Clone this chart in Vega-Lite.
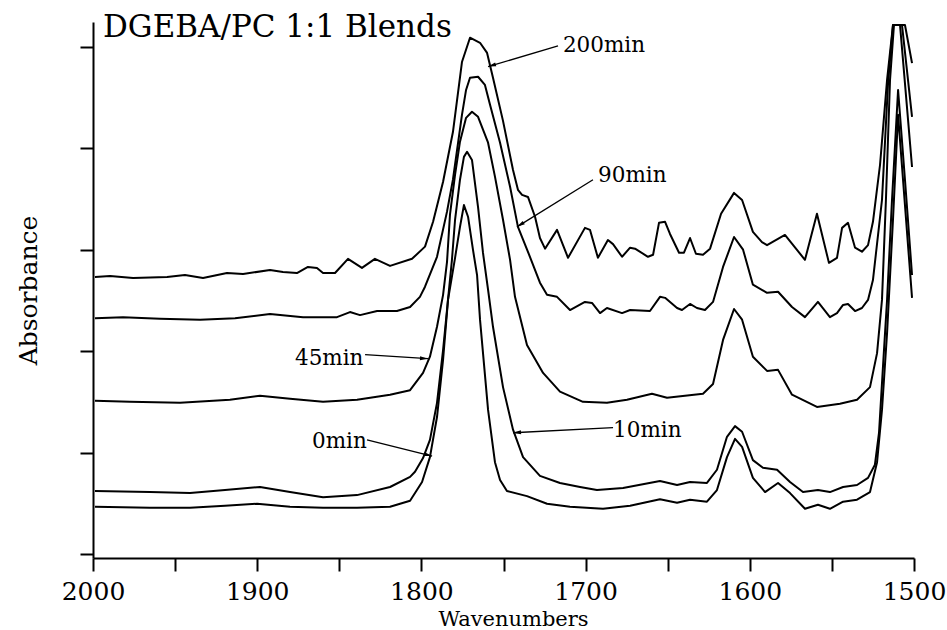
{
  "$schema": "https://vega.github.io/schema/vega-lite/v6.json",
  "width": 821,
  "height": 536,
  "autosize": {"type": "none"},
  "padding": {"left": 93, "top": 22, "right": 33, "bottom": 72},
  "background": "white",
  "config": {"view": {"stroke": null}, "font": "DejaVu Serif"},
  "datasets": {
    "spectra": [
      {"time":"200min","wn":1998.8,"abs":0.546},{"time":"200min","wn":1989.6,"abs":0.548},{"time":"200min","wn":1975.6,"abs":0.544},{"time":"200min","wn":1954.9,"abs":0.546},{"time":"200min","wn":1944.0,"abs":0.550},{"time":"200min","wn":1933.0,"abs":0.544},{"time":"200min","wn":1918.4,"abs":0.554},{"time":"200min","wn":1908.6,"abs":0.552},{"time":"200min","wn":1892.2,"abs":0.560},{"time":"200min","wn":1884.3,"abs":0.556},{"time":"200min","wn":1875.8,"abs":0.554},{"time":"200min","wn":1869.1,"abs":0.566},{"time":"200min","wn":1863.6,"abs":0.564},{"time":"200min","wn":1859.9,"abs":0.554},{"time":"200min","wn":1852.6,"abs":0.554},{"time":"200min","wn":1844.7,"abs":0.582},{"time":"200min","wn":1836.2,"abs":0.564},{"time":"200min","wn":1828.3,"abs":0.582},{"time":"200min","wn":1819.1,"abs":0.568},{"time":"200min","wn":1805.7,"abs":0.582},{"time":"200min","wn":1797.8,"abs":0.606},{"time":"200min","wn":1792.9,"abs":0.655},{"time":"200min","wn":1786.8,"abs":0.734},{"time":"200min","wn":1780.8,"abs":0.832},{"time":"200min","wn":1775.3,"abs":0.970},{"time":"200min","wn":1770.4,"abs":1.018},{"time":"200min","wn":1764.3,"abs":1.008},{"time":"200min","wn":1760.0,"abs":0.988},{"time":"200min","wn":1756.4,"abs":0.939},{"time":"200min","wn":1750.3,"abs":0.854},{"time":"200min","wn":1744.2,"abs":0.757},{"time":"200min","wn":1741.2,"abs":0.718},{"time":"200min","wn":1738.7,"abs":0.708},{"time":"200min","wn":1735.1,"abs":0.704},{"time":"200min","wn":1730.8,"abs":0.665},{"time":"200min","wn":1727.8,"abs":0.623},{"time":"200min","wn":1724.7,"abs":0.602},{"time":"200min","wn":1717.4,"abs":0.639},{"time":"200min","wn":1710.7,"abs":0.584},{"time":"200min","wn":1700.4,"abs":0.643},{"time":"200min","wn":1697.3,"abs":0.639},{"time":"200min","wn":1692.5,"abs":0.584},{"time":"200min","wn":1686.4,"abs":0.619},{"time":"200min","wn":1683.3,"abs":0.611},{"time":"200min","wn":1677.8,"abs":0.586},{"time":"200min","wn":1672.9,"abs":0.604},{"time":"200min","wn":1669.9,"abs":0.602},{"time":"200min","wn":1662.0,"abs":0.586},{"time":"200min","wn":1658.9,"abs":0.590},{"time":"200min","wn":1655.3,"abs":0.653},{"time":"200min","wn":1651.6,"abs":0.655},{"time":"200min","wn":1648.6,"abs":0.631},{"time":"200min","wn":1643.1,"abs":0.594},{"time":"200min","wn":1640.1,"abs":0.594},{"time":"200min","wn":1636.4,"abs":0.623},{"time":"200min","wn":1632.8,"abs":0.592},{"time":"200min","wn":1628.5,"abs":0.590},{"time":"200min","wn":1624.2,"abs":0.602},{"time":"200min","wn":1617.5,"abs":0.671},{"time":"200min","wn":1609.6,"abs":0.712},{"time":"200min","wn":1604.7,"abs":0.698},{"time":"200min","wn":1598.1,"abs":0.635},{"time":"200min","wn":1592.6,"abs":0.615},{"time":"200min","wn":1589.5,"abs":0.609},{"time":"200min","wn":1578.6,"abs":0.629},{"time":"200min","wn":1566.4,"abs":0.580},{"time":"200min","wn":1559.1,"abs":0.671},{"time":"200min","wn":1551.8,"abs":0.574},{"time":"200min","wn":1546.9,"abs":0.584},{"time":"200min","wn":1543.8,"abs":0.643},{"time":"200min","wn":1540.2,"abs":0.653},{"time":"200min","wn":1535.9,"abs":0.604},{"time":"200min","wn":1531.7,"abs":0.596},{"time":"200min","wn":1528.0,"abs":0.609},{"time":"200min","wn":1525.0,"abs":0.655},{"time":"200min","wn":1520.7,"abs":0.767},{"time":"200min","wn":1516.4,"abs":0.935},{"time":"200min","wn":1512.8,"abs":1.043},{"time":"200min","wn":1505.5,"abs":1.043},{"time":"200min","wn":1501.2,"abs":0.968},

      {"time":"90min","wn":1998.8,"abs":0.465},{"time":"90min","wn":1981.7,"abs":0.467},{"time":"90min","wn":1959.2,"abs":0.464},{"time":"90min","wn":1934.8,"abs":0.462},{"time":"90min","wn":1913.5,"abs":0.465},{"time":"90min","wn":1892.2,"abs":0.473},{"time":"90min","wn":1872.1,"abs":0.467},{"time":"90min","wn":1851.4,"abs":0.467},{"time":"90min","wn":1843.5,"abs":0.477},{"time":"90min","wn":1837.4,"abs":0.471},{"time":"90min","wn":1827.0,"abs":0.479},{"time":"90min","wn":1814.9,"abs":0.479},{"time":"90min","wn":1806.9,"abs":0.487},{"time":"90min","wn":1800.9,"abs":0.507},{"time":"90min","wn":1797.8,"abs":0.527},{"time":"90min","wn":1790.5,"abs":0.586},{"time":"90min","wn":1784.4,"abs":0.675},{"time":"90min","wn":1780.8,"abs":0.738},{"time":"90min","wn":1775.3,"abs":0.866},{"time":"90min","wn":1772.8,"abs":0.915},{"time":"90min","wn":1770.4,"abs":0.939},{"time":"90min","wn":1765.5,"abs":0.941},{"time":"90min","wn":1761.3,"abs":0.925},{"time":"90min","wn":1758.2,"abs":0.886},{"time":"90min","wn":1752.1,"abs":0.811},{"time":"90min","wn":1746.0,"abs":0.724},{"time":"90min","wn":1741.2,"abs":0.645},{"time":"90min","wn":1733.9,"abs":0.586},{"time":"90min","wn":1727.8,"abs":0.535},{"time":"90min","wn":1723.5,"abs":0.511},{"time":"90min","wn":1717.4,"abs":0.507},{"time":"90min","wn":1709.5,"abs":0.481},{"time":"90min","wn":1700.4,"abs":0.497},{"time":"90min","wn":1696.1,"abs":0.495},{"time":"90min","wn":1691.2,"abs":0.475},{"time":"90min","wn":1687.0,"abs":0.485},{"time":"90min","wn":1677.8,"abs":0.475},{"time":"90min","wn":1672.9,"abs":0.481},{"time":"90min","wn":1660.8,"abs":0.479},{"time":"90min","wn":1654.7,"abs":0.507},{"time":"90min","wn":1651.6,"abs":0.505},{"time":"90min","wn":1644.3,"abs":0.485},{"time":"90min","wn":1641.3,"abs":0.481},{"time":"90min","wn":1636.4,"abs":0.493},{"time":"90min","wn":1632.2,"abs":0.485},{"time":"90min","wn":1627.3,"abs":0.481},{"time":"90min","wn":1622.4,"abs":0.497},{"time":"90min","wn":1616.3,"abs":0.566},{"time":"90min","wn":1609.6,"abs":0.625},{"time":"90min","wn":1604.1,"abs":0.600},{"time":"90min","wn":1598.1,"abs":0.531},{"time":"90min","wn":1589.5,"abs":0.515},{"time":"90min","wn":1582.8,"abs":0.517},{"time":"90min","wn":1574.3,"abs":0.487},{"time":"90min","wn":1566.4,"abs":0.467},{"time":"90min","wn":1558.5,"abs":0.497},{"time":"90min","wn":1551.2,"abs":0.467},{"time":"90min","wn":1546.9,"abs":0.475},{"time":"90min","wn":1543.2,"abs":0.491},{"time":"90min","wn":1540.2,"abs":0.493},{"time":"90min","wn":1535.9,"abs":0.479},{"time":"90min","wn":1531.7,"abs":0.485},{"time":"90min","wn":1528.0,"abs":0.501},{"time":"90min","wn":1525.0,"abs":0.540},{"time":"90min","wn":1519.5,"abs":0.698},{"time":"90min","wn":1515.8,"abs":0.929},{"time":"90min","wn":1512.8,"abs":1.043},{"time":"90min","wn":1507.3,"abs":1.043},{"time":"90min","wn":1501.2,"abs":0.862},

      {"time":"45min","wn":1998.8,"abs":0.302},{"time":"45min","wn":1977.5,"abs":0.300},{"time":"45min","wn":1947.0,"abs":0.298},{"time":"45min","wn":1916.6,"abs":0.304},{"time":"45min","wn":1898.3,"abs":0.312},{"time":"45min","wn":1880.0,"abs":0.306},{"time":"45min","wn":1859.9,"abs":0.300},{"time":"45min","wn":1839.2,"abs":0.304},{"time":"45min","wn":1819.1,"abs":0.314},{"time":"45min","wn":1806.9,"abs":0.323},{"time":"45min","wn":1799.0,"abs":0.357},{"time":"45min","wn":1794.8,"abs":0.389},{"time":"45min","wn":1790.5,"abs":0.448},{"time":"45min","wn":1786.8,"abs":0.511},{"time":"45min","wn":1784.4,"abs":0.576},{"time":"45min","wn":1782.6,"abs":0.669},{"time":"45min","wn":1779.5,"abs":0.748},{"time":"45min","wn":1776.5,"abs":0.813},{"time":"45min","wn":1772.8,"abs":0.860},{"time":"45min","wn":1769.2,"abs":0.872},{"time":"45min","wn":1765.5,"abs":0.862},{"time":"45min","wn":1759.4,"abs":0.811},{"time":"45min","wn":1755.2,"abs":0.744},{"time":"45min","wn":1750.3,"abs":0.659},{"time":"45min","wn":1746.0,"abs":0.580},{"time":"45min","wn":1743.0,"abs":0.507},{"time":"45min","wn":1735.7,"abs":0.412},{"time":"45min","wn":1725.9,"abs":0.357},{"time":"45min","wn":1715.6,"abs":0.320},{"time":"45min","wn":1701.6,"abs":0.300},{"time":"45min","wn":1687.0,"abs":0.298},{"time":"45min","wn":1674.8,"abs":0.304},{"time":"45min","wn":1659.6,"abs":0.316},{"time":"45min","wn":1650.4,"abs":0.308},{"time":"45min","wn":1628.5,"abs":0.316},{"time":"45min","wn":1622.4,"abs":0.335},{"time":"45min","wn":1616.3,"abs":0.422},{"time":"45min","wn":1609.6,"abs":0.483},{"time":"45min","wn":1604.7,"abs":0.462},{"time":"45min","wn":1598.1,"abs":0.389},{"time":"45min","wn":1589.5,"abs":0.361},{"time":"45min","wn":1582.8,"abs":0.363},{"time":"45min","wn":1574.3,"abs":0.314},{"time":"45min","wn":1559.1,"abs":0.290},{"time":"45min","wn":1545.1,"abs":0.296},{"time":"45min","wn":1534.7,"abs":0.304},{"time":"45min","wn":1526.8,"abs":0.329},{"time":"45min","wn":1522.5,"abs":0.396},{"time":"45min","wn":1519.5,"abs":0.501},{"time":"45min","wn":1517.1,"abs":0.698},{"time":"45min","wn":1514.6,"abs":0.935},{"time":"45min","wn":1512.2,"abs":1.043},{"time":"45min","wn":1508.5,"abs":1.043},{"time":"45min","wn":1501.2,"abs":0.763},

      {"time":"10min","wn":1998.8,"abs":0.124},{"time":"10min","wn":1965.3,"abs":0.122},{"time":"10min","wn":1940.9,"abs":0.120},{"time":"10min","wn":1919.6,"abs":0.126},{"time":"10min","wn":1898.3,"abs":0.132},{"time":"10min","wn":1880.0,"abs":0.122},{"time":"10min","wn":1859.9,"abs":0.112},{"time":"10min","wn":1839.2,"abs":0.116},{"time":"10min","wn":1819.1,"abs":0.132},{"time":"10min","wn":1806.9,"abs":0.152},{"time":"10min","wn":1803.9,"abs":0.162},{"time":"10min","wn":1799.0,"abs":0.189},{"time":"10min","wn":1794.8,"abs":0.225},{"time":"10min","wn":1790.5,"abs":0.298},{"time":"10min","wn":1786.8,"abs":0.402},{"time":"10min","wn":1783.8,"abs":0.501},{"time":"10min","wn":1781.4,"abs":0.580},{"time":"10min","wn":1779.5,"abs":0.659},{"time":"10min","wn":1776.5,"abs":0.738},{"time":"10min","wn":1774.1,"abs":0.783},{"time":"10min","wn":1772.2,"abs":0.793},{"time":"10min","wn":1769.2,"abs":0.777},{"time":"10min","wn":1765.5,"abs":0.684},{"time":"10min","wn":1762.5,"abs":0.594},{"time":"10min","wn":1759.4,"abs":0.521},{"time":"10min","wn":1756.4,"abs":0.448},{"time":"10min","wn":1750.3,"abs":0.329},{"time":"10min","wn":1744.2,"abs":0.245},{"time":"10min","wn":1738.1,"abs":0.191},{"time":"10min","wn":1727.8,"abs":0.154},{"time":"10min","wn":1715.6,"abs":0.140},{"time":"10min","wn":1703.4,"abs":0.132},{"time":"10min","wn":1693.1,"abs":0.126},{"time":"10min","wn":1677.2,"abs":0.130},{"time":"10min","wn":1654.7,"abs":0.144},{"time":"10min","wn":1644.3,"abs":0.136},{"time":"10min","wn":1636.4,"abs":0.142},{"time":"10min","wn":1626.1,"abs":0.140},{"time":"10min","wn":1620.0,"abs":0.166},{"time":"10min","wn":1613.9,"abs":0.231},{"time":"10min","wn":1609.0,"abs":0.252},{"time":"10min","wn":1604.7,"abs":0.241},{"time":"10min","wn":1598.1,"abs":0.185},{"time":"10min","wn":1592.0,"abs":0.170},{"time":"10min","wn":1583.4,"abs":0.166},{"time":"10min","wn":1575.5,"abs":0.142},{"time":"10min","wn":1567.6,"abs":0.122},{"time":"10min","wn":1558.5,"abs":0.126},{"time":"10min","wn":1551.2,"abs":0.122},{"time":"10min","wn":1543.2,"abs":0.132},{"time":"10min","wn":1534.7,"abs":0.136},{"time":"10min","wn":1528.0,"abs":0.150},{"time":"10min","wn":1523.8,"abs":0.176},{"time":"10min","wn":1521.3,"abs":0.239},{"time":"10min","wn":1518.9,"abs":0.369},{"time":"10min","wn":1516.4,"abs":0.501},{"time":"10min","wn":1513.4,"abs":0.698},{"time":"10min","wn":1509.7,"abs":0.915},{"time":"10min","wn":1505.5,"abs":0.738},{"time":"10min","wn":1501.2,"abs":0.550},

      {"time":"0min","wn":1998.8,"abs":0.093},{"time":"0min","wn":1965.3,"abs":0.091},{"time":"0min","wn":1940.9,"abs":0.091},{"time":"0min","wn":1919.6,"abs":0.095},{"time":"0min","wn":1900.1,"abs":0.099},{"time":"0min","wn":1880.0,"abs":0.093},{"time":"0min","wn":1859.9,"abs":0.091},{"time":"0min","wn":1839.2,"abs":0.091},{"time":"0min","wn":1819.1,"abs":0.093},{"time":"0min","wn":1806.9,"abs":0.105},{"time":"0min","wn":1799.6,"abs":0.142},{"time":"0min","wn":1794.8,"abs":0.191},{"time":"0min","wn":1790.5,"abs":0.270},{"time":"0min","wn":1786.8,"abs":0.383},{"time":"0min","wn":1783.8,"abs":0.501},{"time":"0min","wn":1779.5,"abs":0.584},{"time":"0min","wn":1776.5,"abs":0.645},{"time":"0min","wn":1774.1,"abs":0.688},{"time":"0min","wn":1771.6,"abs":0.665},{"time":"0min","wn":1768.6,"abs":0.600},{"time":"0min","wn":1766.1,"abs":0.550},{"time":"0min","wn":1764.3,"abs":0.462},{"time":"0min","wn":1759.4,"abs":0.284},{"time":"0min","wn":1755.2,"abs":0.181},{"time":"0min","wn":1752.1,"abs":0.146},{"time":"0min","wn":1747.9,"abs":0.124},{"time":"0min","wn":1735.7,"abs":0.114},{"time":"0min","wn":1723.5,"abs":0.099},{"time":"0min","wn":1709.5,"abs":0.093},{"time":"0min","wn":1689.4,"abs":0.089},{"time":"0min","wn":1672.9,"abs":0.095},{"time":"0min","wn":1654.7,"abs":0.108},{"time":"0min","wn":1644.3,"abs":0.101},{"time":"0min","wn":1636.4,"abs":0.107},{"time":"0min","wn":1626.1,"abs":0.103},{"time":"0min","wn":1620.0,"abs":0.126},{"time":"0min","wn":1613.9,"abs":0.191},{"time":"0min","wn":1609.0,"abs":0.227},{"time":"0min","wn":1604.7,"abs":0.211},{"time":"0min","wn":1598.1,"abs":0.150},{"time":"0min","wn":1590.7,"abs":0.122},{"time":"0min","wn":1582.8,"abs":0.140},{"time":"0min","wn":1575.5,"abs":0.120},{"time":"0min","wn":1566.4,"abs":0.089},{"time":"0min","wn":1558.5,"abs":0.097},{"time":"0min","wn":1551.2,"abs":0.089},{"time":"0min","wn":1543.2,"abs":0.103},{"time":"0min","wn":1534.7,"abs":0.107},{"time":"0min","wn":1526.8,"abs":0.122},{"time":"0min","wn":1522.5,"abs":0.181},{"time":"0min","wn":1519.5,"abs":0.284},{"time":"0min","wn":1516.4,"abs":0.436},{"time":"0min","wn":1512.8,"abs":0.659},{"time":"0min","wn":1509.7,"abs":0.866},{"time":"0min","wn":1505.5,"abs":0.688},{"time":"0min","wn":1501.2,"abs":0.505}
    ],
    "labels": [
      {"label":"200min","wn":1713.8,"abs":0.990},
      {"label":"90min","wn":1692.4,"abs":0.734},
      {"label":"45min","wn":1877.0,"abs":0.373},
      {"label":"0min","wn":1866.6,"abs":0.209},
      {"label":"10min","wn":1683.3,"abs":0.231}
    ],
    "arrows": [
      {"label":"200min","wn":1759.4,"abs":0.961,"wn2":1716.8,"abs2":1.002},
      {"label":"90min","wn":1741.8,"abs":0.645,"wn2":1695.5,"abs2":0.738},
      {"label":"45min","wn":1796.0,"abs":0.385,"wn2":1834.3,"abs2":0.393},
      {"label":"0min","wn":1793.5,"abs":0.193,"wn2":1833.1,"abs2":0.225},
      {"label":"10min","wn":1744.2,"abs":0.239,"wn2":1683.3,"abs2":0.249}
    ],
    "heading": [
      {"text":"DGEBA/PC 1:1 Blends","wn":1993.9,"abs":1.020}
    ]
  },
  "encoding": {
    "x": {
      "field": "wn", "type": "quantitative",
      "scale": {"domain": [1500, 2000], "reverse": true, "nice": false, "zero": false},
      "axis": {
        "title": "Wavenumbers", "titleFont": "DejaVu Serif", "titleFontSize": 21, "titleFontWeight": "normal", "titleColor": "black",
        "titlePadding": 4, "titleX": 420,
        "values": [2000, 1950, 1900, 1850, 1800, 1750, 1700, 1650, 1600, 1550, 1500],
        "format": "d",
        "labelExpr": "datum.value % 100 === 0 ? datum.label : ''",
        "labelFont": "DejaVu Serif", "labelFontSize": 25, "labelColor": "black", "labelPadding": 8,
        "labelFlush": false, "labelOverlap": false,
        "tickSize": 13, "tickColor": "black", "tickWidth": 2,
        "domainColor": "black", "domainWidth": 2, "grid": false
      }
    },
    "y": {
      "field": "abs", "type": "quantitative",
      "scale": {"domain": [-0.008, 1.049], "nice": false, "zero": false},
      "axis": {
        "title": "Absorbance", "titleFont": "DejaVu Serif", "titleFontSize": 25, "titleFontWeight": "normal", "titleColor": "black",
        "titlePadding": 38,
        "values": [0, 0.2, 0.4, 0.6, 0.8, 1.0],
        "labels": false,
        "tickSize": 13, "tickColor": "black", "tickWidth": 2,
        "domainColor": "black", "domainWidth": 2, "grid": false
      }
    }
  },
  "layer": [
    {
      "data": {"name": "spectra"},
      "mark": {"type": "line", "color": "black", "strokeWidth": 2, "strokeJoin": "round"},
      "encoding": {"detail": {"field": "time"}}
    },
    {
      "data": {"name": "arrows"},
      "mark": {"type": "rule", "color": "black", "strokeWidth": 1.3},
      "encoding": {"x2": {"field": "wn2"}, "y2": {"field": "abs2"}}
    },
    {
      "data": {"name": "arrows"},
      "transform": [{"filter": {"field": "label", "equal": "200min"}}],
      "mark": {"type": "point", "shape": "M0,0L0.5,2L-0.5,2Z", "angle": 253.3, "filled": true, "color": "black", "opacity": 1, "strokeWidth": 0, "size": 64},
      "encoding": {}
    },
    {
      "data": {"name": "arrows"},
      "transform": [{"filter": {"field": "label", "equal": "90min"}}],
      "mark": {"type": "point", "shape": "M0,0L0.5,2L-0.5,2Z", "angle": 238.3, "filled": true, "color": "black", "opacity": 1, "strokeWidth": 0, "size": 64},
      "encoding": {}
    },
    {
      "data": {"name": "arrows"},
      "transform": [{"filter": {"field": "label", "equal": "45min"}}],
      "mark": {"type": "point", "shape": "M0,0L0.5,2L-0.5,2Z", "angle": 93.6, "filled": true, "color": "black", "opacity": 1, "strokeWidth": 0, "size": 64},
      "encoding": {}
    },
    {
      "data": {"name": "arrows"},
      "transform": [{"filter": {"field": "label", "equal": "0min"}}],
      "mark": {"type": "point", "shape": "M0,0L0.5,2L-0.5,2Z", "angle": 103.8, "filled": true, "color": "black", "opacity": 1, "strokeWidth": 0, "size": 64},
      "encoding": {}
    },
    {
      "data": {"name": "arrows"},
      "transform": [{"filter": {"field": "label", "equal": "10min"}}],
      "mark": {"type": "point", "shape": "M0,0L0.5,2L-0.5,2Z", "angle": 267.1, "filled": true, "color": "black", "opacity": 1, "strokeWidth": 0, "size": 64},
      "encoding": {}
    },
    {
      "data": {"name": "labels"},
      "mark": {"type": "text", "align": "left", "baseline": "alphabetic", "font": "DejaVu Serif", "fontSize": 21.5, "color": "black"},
      "encoding": {"text": {"field": "label"}}
    },
    {
      "data": {"name": "heading"},
      "mark": {"type": "text", "align": "left", "baseline": "alphabetic", "font": "DejaVu Serif", "fontSize": 31, "color": "black"},
      "encoding": {"text": {"field": "text"}}
    }
  ]
}
